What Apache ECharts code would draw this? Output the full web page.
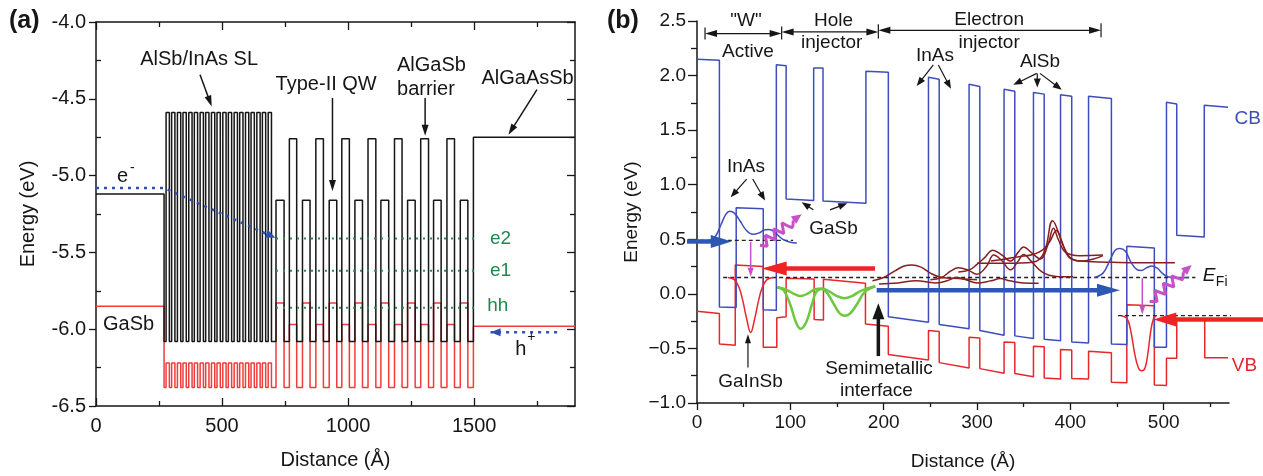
<!DOCTYPE html>
<html><head><meta charset="utf-8">
<script src="https://cdn.jsdelivr.net/npm/echarts@6/dist/echarts.min.js"></script>
<style>html,body{margin:0;padding:0;background:#fff}#c{width:1263px;height:476px}</style>
</head><body><div id="c"></div>
<script>
// ================= Panel (a) data =================
// step profiles: [layer start (Å), band edge (eV)]
const aCBSteps = [
 [0,-5.12],[270,-6.08],
 [278,-4.59],[291,-6.08],[300,-4.59],[313,-6.08],[323,-4.59],[336,-6.08],[345,-4.59],[358,-6.08],
 [368,-4.59],[381,-6.08],[390,-4.59],[403,-6.08],[413,-4.59],[426,-6.08],[435,-4.59],[448,-6.08],
 [458,-4.59],[471,-6.08],[480,-4.59],[493,-6.08],[503,-4.59],[516,-6.08],[525,-4.59],[538,-6.08],
 [548,-4.59],[561,-6.08],[570,-4.59],[583,-6.08],[593,-4.59],[606,-6.08],[615,-4.59],[628,-6.08],
 [638,-4.59],[651,-6.08],[660,-4.59],[673,-6.08],[683,-4.59],[696,-6.08],
 [714,-5.16],[746,-6.08],[767,-4.76],[796,-6.08],
 [819,-5.16],[849,-6.08],[872,-4.76],[902,-6.08],
 [925,-5.16],[955,-6.08],[975,-4.76],[1005,-6.08],
 [1027,-5.16],[1057,-6.08],[1079,-4.76],[1110,-6.08],
 [1130,-5.16],[1161,-6.08],[1184,-4.76],[1214,-6.08],
 [1236,-5.16],[1266,-6.08],[1288,-4.76],[1319,-6.08],
 [1339,-5.16],[1369,-6.08],[1392,-4.76],[1422,-6.08],
 [1445,-5.16],[1475,-6.08],
 [1497,-4.75],[1900,-4.75]
];
const aVBSteps = [
 [0,-5.85],[270,-6.38],
 [278,-6.22],[291,-6.38],[300,-6.22],[313,-6.38],[323,-6.22],[336,-6.38],[345,-6.22],[358,-6.38],
 [368,-6.22],[381,-6.38],[390,-6.22],[403,-6.38],[413,-6.22],[426,-6.38],[435,-6.22],[448,-6.38],
 [458,-6.22],[471,-6.38],[480,-6.22],[493,-6.38],[503,-6.22],[516,-6.38],[525,-6.22],[538,-6.38],
 [548,-6.22],[561,-6.38],[570,-6.22],[583,-6.38],[593,-6.22],[606,-6.38],[615,-6.22],[628,-6.38],
 [638,-6.22],[651,-6.38],[660,-6.22],[673,-6.38],[683,-6.22],[696,-6.38],
 [714,-5.83],[746,-6.38],[767,-5.97],[796,-6.38],
 [819,-5.83],[849,-6.38],[872,-5.97],[902,-6.38],
 [925,-5.83],[955,-6.38],[975,-5.97],[1005,-6.38],
 [1027,-5.83],[1057,-6.38],[1079,-5.97],[1110,-6.38],
 [1130,-5.83],[1161,-6.38],[1184,-5.97],[1214,-6.38],
 [1236,-5.83],[1266,-6.38],[1288,-5.97],[1319,-6.38],
 [1339,-5.83],[1369,-6.38],[1392,-5.97],[1422,-6.38],
 [1445,-5.83],[1475,-6.38],
 [1497,-5.98],[1900,-5.98]
];
const aLevelE = [-5.41, -5.62, -5.86];
const aLevelNames = ['e2', 'e1', 'hh'];
const aLevelSpan = [714, 1512];
const aElecPath = [[0,-5.08],[268,-5.08],[712,-5.405]];
const aHolePath = [[1829,-6.02],[1565,-6.02]];
const aXTicks = [0,500,1000,1500];
const aXMinor = [250,750,1250,1750];
const aYTicks = [-6.5,-6.0,-5.5,-5.0,-4.5,-4.0];
const aYMinor = [-6.25,-5.75,-5.25,-4.75,-4.25];

// ================= Panel (b) data =================
const bCB = [[0,2.15],[24,2.14],[24,-0.12],[42,-0.125],[42,0.79],[71,0.78],[71,-0.145],[85,-0.15],
 [85,2.10],[95.5,2.09],[95.5,0.87],[125,0.855],[125,2.07],[135,2.07],[135,0.85],[181,0.83],
 [181,2.04],[205,2.03],[205,-0.21],[248,-0.26],[248,1.985],[259.5,1.967],[259.5,-0.28],[291.5,-0.32],
 [291.5,1.92],[303,1.90],[303,-0.335],[329,-0.38],[329,1.875],[340.5,1.857],[340.5,-0.385],[360.5,-0.41],
 [360.5,1.845],[372,1.83],[372,-0.415],[389.5,-0.43],[389.5,1.824],[401.5,1.81],[401.5,-0.44],[419.5,-0.45],
 [419.5,1.81],[444,1.79],[444,-0.46],[460.5,-0.465],[460.5,0.436],[490,0.42],[490,-0.49],[503,-0.49],
 [503,1.755],[514,1.74],[514,0.536],[543.5,0.52],[543.5,1.727],[569,1.71]];
const bVB = [[0,-0.16],[24,-0.18],[24,-0.46],[41,-0.47],[41,0.264],[71,0.25],[71,-0.49],[85.5,-0.49],
 [85.5,-0.22],[95.5,-0.21],[95.5,0.143],[125.5,0.135],[125.5,-0.236],[135.5,-0.24],[135.5,0.133],[180.5,0.097],
 [180.5,-0.276],[205,-0.297],[205,-0.555],[248,-0.606],[248,-0.336],[259.5,-0.345],[259.5,-0.63],[291.5,-0.68],
 [291.5,-0.397],[303,-0.405],[303,-0.685],[329,-0.727],[329,-0.44],[340.5,-0.445],[340.5,-0.73],[360.5,-0.76],
 [360.5,-0.48],[372,-0.485],[372,-0.77],[389.5,-0.78],[389.5,-0.51],[401.5,-0.515],[401.5,-0.776],[419.5,-0.78],
 [419.5,-0.525],[444,-0.54],[444,-0.81],[460.5,-0.815],[460.5,-0.10],[490,-0.11],[490,-0.836],[503,-0.84],
 [503,-0.59],[514,-0.59],[514,-0.24],[544,-0.24],[544,-0.585],[569,-0.585]];
const bWfBlue = [
 [[14,0.49],[20,0.53],[26,0.64],[31,0.73],[35,0.757],[40,0.74],[46,0.67],[53,0.58],[60,0.545],[67,0.56],[72,0.585],[77,0.59],[82,0.575],[87,0.535],[92,0.5],[99,0.475],[107,0.465]],
 [[426,0.15],[435,0.19],[442,0.3],[448,0.4],[453,0.415],[459,0.39],[465,0.29],[471,0.225],[476,0.215],[482,0.24],[487,0.255],[493,0.235],[499,0.185],[505,0.155],[515,0.148],[527,0.15]]
];
const bWfRed = [
 [[33,0.15],[40,0.13],[45,0.06],[49,-0.06],[53,-0.22],[57.5,-0.355],[62,-0.22],[66,-0.06],[70,0.06],[75,0.13],[82,0.15]],
 [[455,-0.2],[461,-0.23],[465,-0.35],[469,-0.55],[473,-0.68],[476.5,-0.705],[480,-0.68],[483,-0.55],[486,-0.35],[489,-0.23],[492,-0.2]]
];
const bWfGreen = [
 [[86,0.06],[93,0.03],[100,-0.1],[106,-0.26],[111,-0.32],[117,-0.26],[123,-0.1],[128,0.02],[134,0.045],[140,0.0],[147,-0.1],[153,-0.18],[158,-0.2],[164,-0.18],[171,-0.1],[180,0.02],[191,0.07]],
 [[86,0.06],[95,0.04],[104,0.0],[111,-0.02],[118,0.0],[126,0.04],[134,0.05],[142,0.02],[150,-0.02],[158,-0.04],[166,-0.02],[176,0.03],[191,0.07]]
];
const bWfMaroon = [
 [[188,0.12],[200,0.15],[212,0.21],[222,0.255],[230,0.265],[240,0.245],[250,0.19],[262,0.15],[280,0.14],[300,0.13]],
 [[195,0.09],[215,0.1],[235,0.12],[255,0.1],[268,0.12],[278,0.15],[288,0.13],[300,0.1],[315,0.12],[325,0.14],[335,0.12],[350,0.1],[366,0.097]],
 [[250,0.13],[262,0.15],[272,0.21],[280,0.24],[290,0.22],[300,0.18],[310,0.25],[318,0.355],[326,0.31],[336,0.22],[344,0.3],[350,0.36],[358,0.3],[370,0.2],[385,0.16],[403,0.157]],
 [[280,0.2],[292,0.22],[300,0.27],[308,0.33],[317,0.4],[326,0.36],[336,0.3],[344,0.38],[350,0.43],[358,0.38],[368,0.32],[376,0.45],[382,0.6],[387,0.5],[395,0.38],[410,0.35],[435,0.355]],
 [[300,0.28],[330,0.28],[360,0.29],[372,0.38],[381,0.67],[390,0.5],[398,0.34],[410,0.3],[440,0.29],[470,0.285],[512,0.285]],
 [[315,0.3],[330,0.32],[345,0.34],[360,0.36],[370,0.4],[378,0.48],[385,0.58],[392,0.45],[400,0.33],[412,0.3],[425,0.32],[435,0.35]]
];
const bDashed = [[[3,0.49],[103,0.49]], [[28,0.15],[534,0.15]], [[451,-0.2],[578,-0.2]]];
const bSquiggles = [
 [[67.5,0.445],[75.2,0.437],[73.2,0.538],[84.0,0.494],[82.1,0.595],[93.0,0.551],[91.0,0.652],[101.9,0.608],[103.1,0.673]],
 [[485,-0.07],[493.0,-0.071],[490.5,0.031],[502.0,-0.004],[499.5,0.098],[511.0,0.063],[508.5,0.164],[520.0,0.13],[521,0.197]]
];
const bXTicks = [0,100,200,300,400,500];
const bXMinor = [50,150,250,350,450,550];
const bYTicks = [-1.0,-0.5,0.0,0.5,1.0,1.5,2.0,2.5];
const bYMinor = [-0.75,-0.25,0.25,0.75,1.25,1.75,2.25];

// ================= annotations =================
const FONT = '"Liberation Sans", Arial, Helvetica, sans-serif';
const BLACK = '#161616', RED_A = '#f03c3c', GREEN_D = '#2a8d55', GREEN_T = '#1f8a4c', BLUE_D = '#2f4fb0';
const BLUE = '#3d4dbd', RED = '#e8262c', MAROON = '#862020', GREEN_W = '#6cc93f', PINK = '#c84fc8';
const BLUE_T = '#2c57b4', RED_T = '#ee2424';

const textsA = [
 {t:'AlSb/InAs SL', x:409, y:-4.247},
 {t:'Type-II QW', x:913, y:-4.41},
 {t:'AlGaSb', x:1194, y:-4.286, a:'left'},
 {t:'barrier', x:1194, y:-4.438, a:'left'},
 {t:'AlGaAsSb', x:1712, y:-4.366},
 {t:'GaSb', x:28, y:-5.97, a:'left'},
 {t:'e', x:83, y:-5.009, a:'left', sup:{t:'-', dx:13, dy:-9, s:14}},
 {t:'h', x:1663, y:-6.129, a:'left', sup:{t:'+', dx:12, dy:-12, s:14}},
 {t:aLevelNames[0], x:1563, y:aLevelE[0], a:'left', c:GREEN_T, s:19},
 {t:aLevelNames[1], x:1563, y:aLevelE[1], a:'left', c:GREEN_T, s:19},
 {t:aLevelNames[2], x:1552, y:aLevelE[2] + 0.01, a:'left', c:GREEN_T, s:19}
];
const arrowsA = [
 {p:[412.7,-4.344,459,-4.55]},
 {p:[938,-4.495,938,-5.10]},
 {p:[1305.5,-4.495,1305.5,-4.74]},
 {p:[1749,-4.44,1636,-4.734]},
 {p:[aElecPath[1][0],aElecPath[1][1],aElecPath[2][0],aElecPath[2][1]], headOnly:true, c:BLUE_D, hl:10, hw:8},
 {p:[aHolePath[0][0],aHolePath[0][1],aHolePath[1][0],aHolePath[1][1]], headOnly:true, c:BLUE_D, hl:10, hw:8}
];
const textsB = [
 {t:'"W"', x:52.5, y:2.5},
 {t:'Active', x:54.6, y:2.214},
 {t:'Hole', x:146.3, y:2.505},
 {t:'injector', x:144.3, y:2.3},
 {t:'Electron', x:313, y:2.514},
 {t:'injector', x:313, y:2.3},
 {t:'InAs', x:255, y:2.18},
 {t:'AlSb', x:367.5, y:2.127},
 {t:'InAs', x:52.5, y:1.164},
 {t:'GaSb', x:146.3, y:0.595},
 {t:'GaInSb', x:57.3, y:-0.81},
 {t:'Semimetallic', x:195, y:-0.69},
 {t:'interface', x:192.3, y:-0.89},
 {t:'CB', x:576, y:1.605, a:'left', c:BLUE},
 {t:'VB', x:573, y:-0.655, a:'left', c:RED},
 {t:'E', x:542, y:0.164, a:'left', it:true, sub:{t:'Fi', dx:13, dy:6, s:14}}
];
const arrowsB = [
 {p:[-10.7,0.48,37.2,0.48], c:BLUE_T, w:4.5, hl:21, hw:13},
 {p:[190.7,0.233,69.3,0.233], c:RED_T, w:4.5, hl:25, hw:14},
 {p:[192.5,0.033,453.2,0.033], c:BLUE_T, w:4.5, hl:23, hw:13},
 {p:[607,-0.236,488.9,-0.236], c:RED_T, w:4.5, hl:23, hw:14},
 {p:[57.5,0.475,57.5,0.157], c:PINK, w:1.5, hl:9, hw:6},
 {p:[477.1,0.143,477.1,-0.19], c:PINK, w:1.5, hl:9, hw:6},
 {p:[103.1,0.673,112,0.73], c:PINK, w:3, hl:10, hw:9},
 {p:[521,0.197,530,0.264], c:PINK, w:3, hl:10, hw:9},
 {p:[194.3,-0.57,194.3,-0.085], w:3.5, hl:16, hw:12},
 {p:[54.6,-0.675,54.6,-0.37], w:1.2, hl:9, hw:6},
 {p:[53.2,1.052,36.1,0.885], w:1.2, hl:9, hw:7},
 {p:[59.7,1.052,72.9,0.855], w:1.2, hl:9, hw:7},
 {p:[124.6,0.77,112.2,0.84], w:1.2, hl:9, hw:7},
 {p:[142.5,0.77,161,0.83], w:1.2, hl:9, hw:7},
 {p:[253.2,2.097,235.4,1.905], w:1.2, hl:9, hw:7},
 {p:[258.6,2.097,272.1,1.879], w:1.2, hl:9, hw:7},
 {p:[364,2.02,338.9,1.915], w:1.2, hl:9, hw:7},
 {p:[364.6,2.02,364.6,1.89], w:1.2, hl:9, hw:7},
 {p:[367.5,2.02,390.8,1.87], w:1.2, hl:9, hw:7},
 {p:[8.6,2.385,90.7,2.385], both:true, w:1.2, hl:12, hw:7},
 {p:[90.7,2.4,194.3,2.4], both:true, w:1.2, hl:12, hw:7},
 {p:[194.3,2.415,432.9,2.415], both:true, w:1.2, hl:12, hw:7},
 {p:[8.6,2.33,8.6,2.44], w:1.2, hl:0},
 {p:[90.7,2.33,90.7,2.45], w:1.2, hl:0},
 {p:[194.3,2.34,194.3,2.47], w:1.2, hl:0},
 {p:[432.9,2.35,432.9,2.48], w:1.2, hl:0}
];

// ================= helpers =================
function head(tip, ux, uy, hl, hw) {
  const bx = tip[0] - ux * hl, by = tip[1] - uy * hl, nx = -uy, ny = ux, h = hw / 2;
  return [[tip[0], tip[1]], [bx + nx * h, by + ny * h], [bx - nx * h, by - ny * h]];
}
function arrowSeries(axi, specs) {
  return {
    type: 'custom', xAxisIndex: axi, yAxisIndex: axi, clip: false, silent: true, z: 6,
    data: specs.map(a => a.p), encode: {x: [0, 2], y: [1, 3]},
    renderItem: function (params, api) {
      const a = specs[params.dataIndex];
      const c = a.c || BLACK, w = a.w || 1.5, hl = (a.hl === undefined ? 11 : a.hl), hw = a.hw || 7;
      const p1 = api.coord([a.p[0], a.p[1]]), p2 = api.coord([a.p[2], a.p[3]]);
      const dx = p2[0] - p1[0], dy = p2[1] - p1[1], L = Math.hypot(dx, dy) || 1;
      const ux = dx / L, uy = dy / L;
      const ch = [];
      if (!a.headOnly) {
        const s = a.both ? [p1[0] + ux * hl * 0.8, p1[1] + uy * hl * 0.8] : p1;
        const e = [p2[0] - ux * hl * 0.8, p2[1] - uy * hl * 0.8];
        ch.push({type: 'line', shape: {x1: s[0], y1: s[1], x2: e[0], y2: e[1]}, style: {stroke: c, lineWidth: w}});
      }
      if (hl > 0) {
        ch.push({type: 'polygon', shape: {points: head(p2, ux, uy, hl, hw)}, style: {fill: c}});
        if (a.both) ch.push({type: 'polygon', shape: {points: head(p1, -ux, -uy, hl, hw)}, style: {fill: c}});
      }
      return {type: 'group', children: ch};
    }
  };
}
function textSeries(axi, specs, defSize) {
  return {
    type: 'custom', xAxisIndex: axi, yAxisIndex: axi, clip: false, silent: true, z: 7,
    data: specs.map(t => [t.x, t.y]),
    renderItem: function (params, api) {
      const t = specs[params.dataIndex];
      const p = api.coord([t.x, t.y]);
      const s = t.s || defSize, col = t.c || BLACK;
      const ch = [{type: 'text', x: p[0], y: p[1], style: {text: t.t, fill: col,
        font: (t.it ? 'italic ' : '') + s + 'px ' + FONT, align: t.a || 'center', verticalAlign: 'middle'}}];
      const extra = t.sup || t.sub;
      if (extra) ch.push({type: 'text', x: p[0] + extra.dx, y: p[1] + extra.dy, style: {text: extra.t, fill: col,
        font: extra.s + 'px ' + FONT, align: 'left', verticalAlign: 'middle'}});
      return {type: 'group', children: ch};
    }
  };
}
function lineS(axi, data, color, width, extra) {
  const base = {type: 'line', xAxisIndex: axi, yAxisIndex: axi, data: data, symbol: 'none', silent: true,
    clip: false, z: 3, lineStyle: {color: color, width: width}};
  if (extra && extra.lineStyle) { Object.assign(base.lineStyle, extra.lineStyle); delete extra.lineStyle; }
  return Object.assign(base, extra || {});
}
function axisBase(grid, pos, min, max, ticks, tickLen, inside, showLine, labels, labelSize, fmt) {
  return {
    type: 'value', gridIndex: grid, position: pos, min: min, max: max,
    axisLine: {show: showLine, onZero: false, lineStyle: {color: BLACK, width: 1.5}},
    axisTick: {show: true, customValues: ticks, inside: inside, length: tickLen, lineStyle: {color: BLACK, width: 1.3}},
    axisLabel: {show: labels, customValues: ticks, fontSize: labelSize, color: BLACK, fontFamily: FONT, margin: 8, formatter: fmt},
    splitLine: {show: false}, minorTick: {show: false}
  };
}
const fmtA = v => v.toFixed(1);
const fmtB = v => (v < 0 ? '\u2212' + Math.abs(v).toFixed(1) : v.toFixed(1));

// ================= axes =================
const xAxes = [
  Object.assign(axisBase(0, 'bottom', 0, 1900, aXTicks, 8, true, true, true, 20, v => String(v)),
    {name: 'Distance (Å)', nameLocation: 'middle', nameGap: 44, nameTextStyle: {fontSize: 20, color: BLACK, fontFamily: FONT}}),
  axisBase(0, 'bottom', 0, 1900, aXMinor, 5, true, false, false, 20),
  axisBase(0, 'top', 0, 1900, aXTicks, 8, true, true, false, 20),
  axisBase(0, 'top', 0, 1900, aXMinor, 5, true, false, false, 20),
  Object.assign(axisBase(1, 'bottom', 0, 570, bXTicks, 7, false, true, true, 19, v => String(v)),
    {name: 'Distance (Å)', nameLocation: 'middle', nameGap: 49, nameTextStyle: {fontSize: 19, color: BLACK, fontFamily: FONT}}),
  axisBase(1, 'bottom', 0, 570, bXMinor, 4, false, false, false, 19)
];
xAxes[0].axisLabel.margin = 10;
xAxes[4].axisLabel.margin = 10;
const yAxes = [
  Object.assign(axisBase(0, 'left', -6.5, -4.0, aYTicks, 7, false, true, true, 20, fmtA),
    {name: 'Energy (eV)', nameLocation: 'middle', nameGap: 58, nameTextStyle: {fontSize: 20, color: BLACK, fontFamily: FONT}}),
  axisBase(0, 'left', -6.5, -4.0, aYMinor, 5, true, false, false, 20),
  axisBase(0, 'right', -6.5, -4.0, aYTicks, 8, true, true, false, 20),
  axisBase(0, 'right', -6.5, -4.0, aYMinor, 5, true, false, false, 20),
  Object.assign(axisBase(1, 'left', -1.0, 2.5, bYTicks, 9, false, true, true, 19, fmtB),
    {name: 'Energy (eV)', nameLocation: 'middle', nameGap: 56, nameTextStyle: {fontSize: 19, color: BLACK, fontFamily: FONT}}),
  axisBase(1, 'left', -1.0, 2.5, bYMinor, 6, false, false, false, 19)
];
yAxes[0].axisLabel.margin = 10;
yAxes[4].axisLabel.margin = 11;

// ================= series =================
const series = [];
series.push(lineS(0, aVBSteps, RED_A, 1.5, {step: 'end'}));
series.push(lineS(0, aCBSteps, BLACK, 1.5, {step: 'end'}));
aLevelE.forEach(e => series.push(lineS(0, [[aLevelSpan[0], e], [aLevelSpan[1], e]], GREEN_D, 2, {lineStyle: {type: [2, 5]}, z: 4})));
series.push(lineS(0, aElecPath, BLUE_D, 2.5, {lineStyle: {type: [3, 5]}, z: 5}));
series.push(lineS(0, aHolePath, BLUE_D, 2.5, {lineStyle: {type: [3, 5]}, z: 5}));
series.push(arrowSeries(0, arrowsA));
series.push(textSeries(0, textsA, 20));

series.push(lineS(4, bVB, RED, 1.5));
series.push(lineS(4, bCB, BLUE, 1.5));
bDashed.forEach(d => series.push(lineS(4, d, '#222', 1.3, {lineStyle: {type: [4, 3]}, z: 4})));
bWfGreen.forEach(d => series.push(lineS(4, d, GREEN_W, 2.5, {smooth: 0.4, z: 4})));
bWfMaroon.forEach(d => series.push(lineS(4, d, MAROON, 1.5, {smooth: 0.4, z: 4})));
bWfBlue.forEach(d => series.push(lineS(4, d, BLUE, 1.5, {smooth: 0.4, z: 4})));
bWfRed.forEach(d => series.push(lineS(4, d, RED, 1.5, {smooth: 0.4, z: 4})));
bSquiggles.forEach(d => series.push(lineS(4, d, PINK, 3, {smooth: 0.5, z: 5})));
series.push(arrowSeries(4, arrowsB));
series.push(textSeries(4, textsB, 19));

const chart = echarts.init(document.getElementById('c'), null, {renderer: 'canvas'});
chart.setOption({
  animation: false,
  backgroundColor: '#fff',
  textStyle: {fontFamily: FONT},
  title: [
    {text: '(a)', left: 9, top: 9, padding: 0, textStyle: {fontSize: 25, fontWeight: 'bold', color: BLACK, fontFamily: FONT}},
    {text: '(b)', left: 607, top: 9, padding: 0, textStyle: {fontSize: 25, fontWeight: 'bold', color: BLACK, fontFamily: FONT}}
  ],
  grid: [
    {left: 96, top: 22, width: 479, height: 384},
    {left: 697, top: 21, width: 532, height: 383}
  ],
  xAxis: xAxes,
  yAxis: yAxes,
  series: series
});
</script>
</body></html>
